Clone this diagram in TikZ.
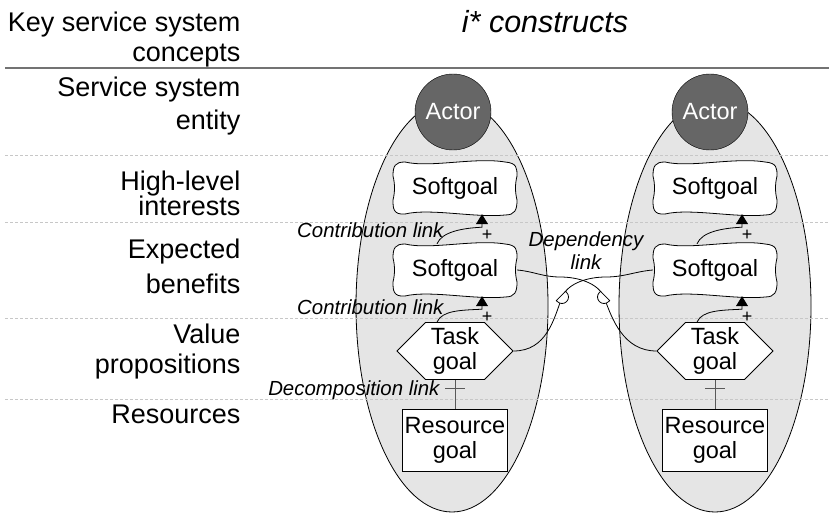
\documentclass[tikz,border=0pt]{standalone}
\usepackage{fontspec}
\setmainfont{Liberation Sans}
\usetikzlibrary{shapes.geometric,shapes.symbols,arrows.meta}

\tikzset{
  rowlbl/.style={anchor=base east, font=\fontsize{27}{30}\selectfont},
  linklbl/.style={font=\fontsize{20.4}{23}\selectfont\itshape},
  rowsep/.style={draw=black!22, dash pattern=on 3pt off 2pt, line width=0.8pt},
  bound/.style={ellipse, draw, fill=black!10, line width=0.8pt, minimum width=192pt, minimum height=412pt, inner sep=0pt},
  actor/.style={circle, draw, fill=black!60, text=white, minimum size=76pt, inner sep=0pt, font=\fontsize{23.5}{25}\selectfont},
  softgoal/.style={minimum width=124pt, minimum height=52pt, inner sep=0pt, font=\fontsize{23.5}{25}\selectfont},
  taskgoal/.style={signal, signal to=east and west, signal pointer angle=90, draw, fill=white, line width=0.8pt, minimum width=116pt, minimum height=57pt, inner sep=0pt, align=center, font=\fontsize{23.5}{25}\selectfont},
  resgoal/.style={rectangle, draw, fill=white, line width=0.8pt, minimum width=105pt, minimum height=62pt, inner sep=0pt, align=center, font=\fontsize{23.5}{25}\selectfont},
  plus/.style={inner sep=0pt, font=\fontsize{18}{18}\selectfont},
  contrib/.style={-{Triangle[width=12pt,length=10pt]}, line width=0.8pt},
  decomp/.style={draw=black!65, line width=1pt},
  dep/.style={line width=0.8pt},
  depd/.pic={\draw[fill=white, line width=0.8pt] (-1.5,-6.5) -- (-1.5,6.5) -- (0,6.5) arc (90:-90:6.5) -- cycle;},
}

\begin{document}
\begin{tikzpicture}[x=1pt, y=-1pt]
  \useasboundingbox (0,0) rectangle (829,513);

  % actor boundaries
  \node[bound] (bnd1) at (452,306) {};
  \node[bound] (bnd2) at (715,306) {};

  % rows
  \draw[black!55, line width=1.5pt] (5,68) -- (829,68);
  \foreach \y in {155,222,318,399}
    \draw[rowsep] (5,\y) -- (829,\y);

  \node[font=\fontsize{30.5}{32}\selectfont\itshape, anchor=base] (title) at (545,33) {i* constructs};
  \node[rowlbl] (k1) at (244,32) {Key service system};
  \node[rowlbl] (k2) at (244,62) {concepts};
  \node[rowlbl] (e1) at (244,97) {Service system};
  \node[rowlbl] (e2) at (244,130) {entity};
  \node[rowlbl] (h1) at (244,190) {High-level\ };
  \node[rowlbl] (h2) at (244,215) {interests};
  \node[rowlbl] (b1) at (244,258) {Expected};
  \node[rowlbl] (b2) at (244,293) {benefits};
  \node[rowlbl] (v1) at (244,343) {Value\ };
  \node[rowlbl] (v2) at (244,373) {propositions};
  \node[rowlbl] (r1) at (244,423) {Resources};

  % elements
  \node[actor] (act1) at (453,112) {Actor};
  \node[actor] (act2) at (710,112) {Actor};

  \foreach \n/\x/\y in {sg11/455/188, sg12/455/270, sg21/715/188, sg22/715/270} {
    \draw[fill=white, line width=0.8pt, shift={(\x,\y)}] (-50,-26) .. controls (-25,-20) and (20,-31) .. (50,-26)
      .. controls (62,-25) and (62,-20) .. (62,-12) .. controls (60,-4) and (60,4) .. (62,12)
      .. controls (62,22) and (60,27) .. (50,27) .. controls (20,30) and (-25,20) .. (-50,26)
      .. controls (-62,27) and (-62,20) .. (-62,12) .. controls (-60,4) and (-60,-4) .. (-62,-12)
      .. controls (-62,-22) and (-60,-26) .. cycle;
    \node[softgoal] (\n) at (\x,\y) {Softgoal};
  }

  \node[taskgoal] (tg1) at (455,351) {Task\\goal};
  \node[taskgoal] (tg2) at (715,351) {Task\\goal};
  \node[resgoal] (rg1) at (455,440) {Resource\\goal};
  \node[resgoal] (rg2) at (715,440) {Resource\\goal};

  % contribution links
  \foreach \a/\b in {sg12/sg11, tg1/sg12, sg22/sg21, tg2/sg22} {
    \draw[contrib] ([xshift=-18pt]\a.north) .. controls +(5,-12) and +(-20,1) .. ([xshift=27pt,yshift=-13pt]\b.south)
      -- ([xshift=27pt]\b.south);
    \node[plus] (p\a) at ([xshift=32pt,yshift=-21pt]\b.south) {+};
  }
  \node[linklbl, anchor=base east] (cl1) at (447,237) {Contribution link};
  \node[linklbl, anchor=base east] (cl2) at (447,314) {Contribution link};

  % decomposition links
  \foreach \t/\r in {tg1/rg1, tg2/rg2} {
    \draw[decomp] (\t.south) -- (\r.north);
    \draw[decomp] ([xshift=-10pt,yshift=-9pt]\t.south) -- ([xshift=10pt,yshift=-9pt]\t.south);
  }
  \node[linklbl, anchor=base east] (dl) at (443,395) {Decomposition link};

  % dependency links
  \coordinate (d1) at (562,297);
  \coordinate (d2) at (604,297);
  \coordinate (m1) at (606,277);
  \coordinate (m2) at (560,277);
  \draw[dep] (tg1.east) .. controls +(33,0) and +(-8,22) .. (d1) .. controls +(6,-14) and +(-18,0) .. (m1)
    to[out=0,in=185] (sg22.west);
  \draw[dep] (tg2.west) .. controls +(-33,0) and +(8,22) .. (d2) .. controls +(-6,-14) and +(18,0) .. (m2)
    to[out=180,in=-5] (sg12.east);
  \pic[rotate=-45] at (d1) {depd};
  \pic[rotate=225] at (d2) {depd};
  \node[linklbl, align=center] (deplbl) at (586,251) {Dependency\\link};
\end{tikzpicture}
\end{document}
